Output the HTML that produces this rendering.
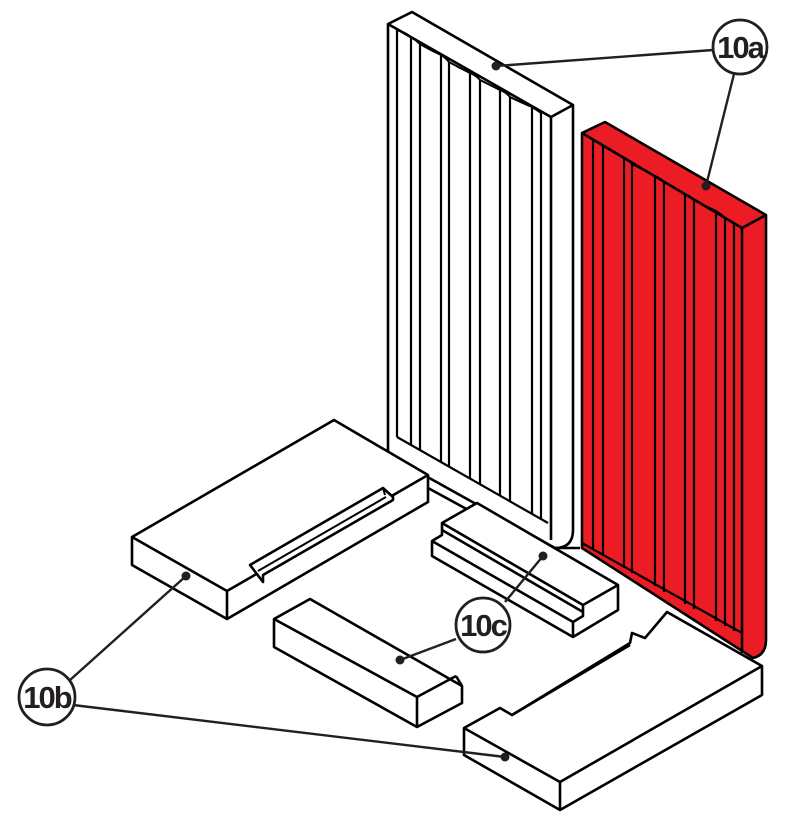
<!DOCTYPE html>
<html><head><meta charset="utf-8"><style>
html,body{margin:0;padding:0;background:#fff;}
svg{display:block;}
text{font-family:"Liberation Sans",sans-serif;font-weight:bold;}
</style></head><body>
<svg width="796" height="822" viewBox="0 0 796 822" xmlns="http://www.w3.org/2000/svg">
<g stroke="#000" stroke-width="2.6" stroke-linejoin="round" fill="#fff">
<path d="M388,24 L412,12 L573,105 L573,530 Q573,548 555,548 L388,455 Z"/>
<path d="M388,24 L551,117 L573,105" fill="none"/>
<path d="M551,117 L551,540" fill="none"/>
<path d="M397,30 Q404,32 411,37 Q416,40 420,44 Q430,50 441,55 Q446,58 449,62 Q460,68 470,73 Q476,75 480,80 Q490,85 500,90 Q506,92 510,97 Q520,102 532,107 Q537,110 541,113" fill="none" stroke-width="2"/>
<g fill="none" stroke-width="2.2">
<path d="M397,30 V437"/><path d="M411,37 V445"/><path d="M420,44 V450"/><path d="M441,55 V462"/><path d="M449,62 V467"/><path d="M470,73 V479"/><path d="M480,80 V485"/><path d="M500,90 V496"/><path d="M510,97 V502"/><path d="M532,107 V514"/><path d="M541,113 V519"/>
<path d="M397,437 L548,523"/>
</g>
<path d="M582,133 L605,122 L766,215 L766,640 Q766,655 753,658 L582,548 Z" fill="#ec1c24"/>
<path d="M582,133 L742,228 L766,215" fill="none"/>
<path d="M742,228 L742,653" fill="none"/>
<path d="M593,140 Q598,142 603,146 Q614,152 624,158 Q629,160 632,164 Q644,170 655,176 Q660,178 664,182 Q675,188 685,194 Q690,196 694,200 Q705,206 716,211 Q721,214 725,218 Q730,220 734,224" fill="none" stroke-width="2"/>
<g fill="none" stroke-width="2.2">
<path d="M593,140 V550"/><path d="M603,146 V556"/><path d="M624,158 V568"/><path d="M632,164 V573"/><path d="M655,176 V586"/><path d="M664,182 V592"/><path d="M685,194 V604"/><path d="M694,200 V609"/><path d="M716,211 V621"/><path d="M725,218 V626"/><path d="M734,224 V631"/>
<path d="M582,543 L742,633"/>
</g>
<path d="M428,488 L472,512" fill="none"/>
<path d="M548,548 L580,548" fill="none"/>
<path d="M132,537 L334,420 L428,475 L428,502 L227,619 L132,565 Z"/>
<path d="M132,537 L227,591 L428,475 M227,591 L227,619" fill="none"/>
<path d="M250,565 L383,488 L393,497 L393,500 L263,575 L263,582 Z" fill="#fff"/>
<path d="M258,571 L386,497 M383,488 L385,495" fill="none" stroke-width="2"/>
<path d="M442,523 L477,503 L618,585 L618,610 L573,637 L432,556 L432,541 L442,535 Z"/>
<path d="M442,523 L583,605 L618,585 M442,530 L583,612 M432,541 L573,622 L583,616 L583,605 M573,622 L573,637" fill="none"/>
<path d="M274,619 L310,599 L462,686 L462,703 L417,727 L274,647 Z"/>
<path d="M274,619 L417,697 L456,676 M417,697 L417,727 M456,676 L462,686" fill="none"/>
<path d="M464,728 L500,708 L512,715 L630,643 L632,633 L645,638 L667,612 L762,666 L762,695 L560,810 L464,755 Z"/>
<path d="M464,728 L560,782 L762,666 M560,782 L560,810 M512,715 L630,645" fill="none"/>
</g>
<g stroke="#231f20" stroke-width="2.4" fill="none">
<line x1="496" y1="66" x2="713" y2="50"/>
<line x1="706" y1="186" x2="734" y2="74"/>
<line x1="186" y1="576" x2="70" y2="680"/>
<line x1="73" y1="705" x2="505" y2="757"/>
<line x1="543" y1="556" x2="505" y2="602"/>
<line x1="456" y1="639" x2="400" y2="660"/>
</g>
<g fill="#231f20">
<circle cx="496" cy="66" r="4.5"/><circle cx="706" cy="186" r="4.5"/><circle cx="186" cy="576" r="4.5"/><circle cx="505" cy="757" r="4.5"/><circle cx="543" cy="556" r="4.5"/><circle cx="400" cy="660" r="4.5"/>
</g>
<g stroke="#231f20" stroke-width="2.8" fill="#fff">
<circle cx="740" cy="47" r="27"/>
<circle cx="483" cy="625" r="27"/>
<circle cx="47" cy="697" r="28"/>
</g>
<g fill="#231f20" font-size="31" text-anchor="middle">
<text x="740" y="58" letter-spacing="-2">10a</text>
<text x="483" y="636" letter-spacing="-2">10c</text>
<text x="47" y="708" letter-spacing="-2">10b</text>
</g>
</svg>
</body></html>
